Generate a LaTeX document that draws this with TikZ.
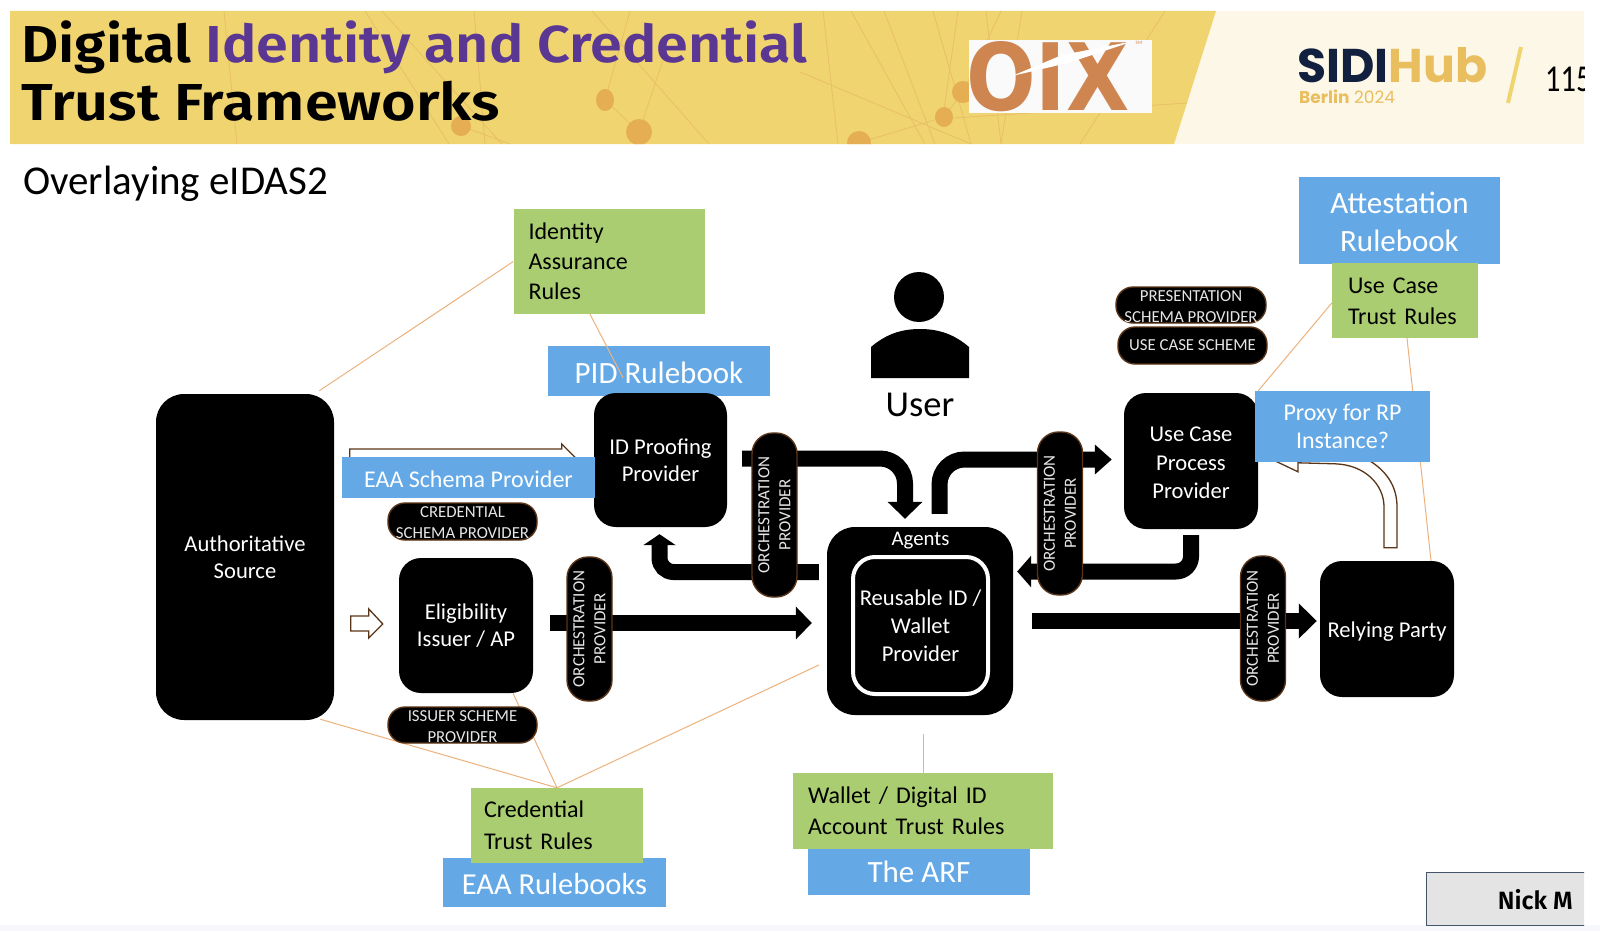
\documentclass[tikz,border=0pt]{standalone}
\usepackage{fontspec}
\setmainfont{Carlito}
\newfontfamily\titlefont{Fira Sans}[BoldFont={Fira Sans SemiBold}]
\newfontfamily\logofont{Poppins}
\newfontfamily\oixfont{DejaVu Sans}
\usetikzlibrary{arrows.meta,calc}
\newcommand\lowertext[2]{\raisebox{-#1pt}[\height][\depth]{#2}}
\definecolor{hdryellow}{HTML}{F0D470}
\definecolor{hdrcream}{HTML}{FDF7E7}
\definecolor{hdrline}{HTML}{E8C068}
\definecolor{hdrdot}{HTML}{E5AE52}
\definecolor{titlepurple}{HTML}{5B3794}
\definecolor{oixorange}{HTML}{CE8550}
\definecolor{sidinavy}{HTML}{12203F}
\definecolor{sidigold}{HTML}{E9BE5E}
\definecolor{boxgreen}{HTML}{A9CD70}
\definecolor{boxblue}{HTML}{64A9E6}
\definecolor{leader}{HTML}{EDB27C}
\definecolor{brownline}{HTML}{5A3518}
\definecolor{pilltext}{HTML}{E6E6E6}
\definecolor{nickfill}{HTML}{E4E4E4}
\definecolor{nickline}{HTML}{44546A}
\definecolor{stripfill}{HTML}{F7F8FC}
\pgfdeclarelayer{back}
\pgfsetlayers{back,main}
\tikzset{
  blackbox/.style={fill=black,text=white,rounded corners=22,inner sep=0pt,align=center,font=\fontsize{22.6}{27}\selectfont},
  vpill/.style={fill=black,draw=brownline,line width=1.4pt,rounded corners=21,rotate=90,inner sep=0pt,
     minimum height=45,text=pilltext,align=center,font=\fontsize{17}{21}\selectfont},
  hpill/.style={fill=black,draw=brownline,line width=1.4pt,rounded corners=17,inner sep=0pt,
     text=pilltext,align=center,font=\fontsize{16.8}{21}\selectfont},
  greenbox/.style={fill=boxgreen,text=black,align=left,inner sep=0pt,font=\fontsize{24}{31}\selectfont},
  bluebox/.style={fill=boxblue,text=white,align=center,inner sep=0pt},
  leaderline/.style={draw=leader,line width=1pt},
  thickarrow/.style n args={2}{draw=black,line width=16pt,-{Triangle[length=#1,width=#2]}},
  outlined/.style={draw=brownline,fill=white,line width=1.3pt,line join=miter},
  plain/.style={inner sep=0pt},
  hdrstroke/.style={draw=hdrline,line width=0.8pt},
}
\begin{document}
\begin{tikzpicture}[x=1pt,y=-1pt]
\useasboundingbox (0,0) rectangle (1600,931);
\begin{pgfonlayer}{back}
\fill[white] (0,0) rectangle (1600,931);
\end{pgfonlayer}
% ----- header
\fill[hdrcream] (10,11) rectangle (1584,144);
\fill[hdryellow] (10,11) -- (1216,11) -- (1174,144) -- (10,144) -- cycle;
\begin{scope}
\clip (10,11) -- (1216,11) -- (1174,144) -- (10,144) -- cycle;
\draw[hdrstroke] (224,11)--(237,144) (365,11)--(449,144) (382,11)--(502,144) (474,11)--(485,144)
  (592,11)--(709,144) (630,11)--(605,100)--(639,132)--(663,60) (823,11)--(838,144) (851,11)--(925,144)
  (884,11)--(935,144) (933,11)--(971,144) (958,11)--(943,117) (986,11)--(1001,144) (1022,11)--(1001,144)
  (1001,11)--(963,92)--(944,117)--(859,143) (953,118)--(1188,103) (800,72)--(971,144) (1165,11)--(1080,144)
  (461,126)--(510,144);
\fill[hdrdot] (605,100) circle[x radius=9,y radius=11] (639,132) circle[radius=13]
  (461,126) circle[radius=10] (963,92) circle[radius=11] (944,117) circle[x radius=9,y radius=10]
  (859,143) circle[radius=12];
\end{scope}
\node[plain,anchor=base west] (t1) at (21,63) {\scalebox{1.105}[1]{\titlefont\fontsize{52}{52}\selectfont\bfseries Digital \textcolor{titlepurple}{Identity and Credential}}};
\node[plain,anchor=base west] (t2) at (21,121) {\scalebox{1.14}[1]{\titlefont\fontsize{52}{52}\selectfont\bfseries Trust Frameworks}};
% OIX logo
\fill[white!98!black] (969,40) rectangle (1151.5,113);
\node[plain,anchor=base west] (oix) at (966,111) {\textcolor{oixorange}{\scalebox{0.82}[0.93]{\oixfont\fontsize{100}{100}\selectfont\bfseries OIX}}};
\fill[white] (1012,76) -- (1062,55) -- (1134,41) -- (1068,63) -- cycle;
\node[plain] (oixsm) at (1139,43) {\fontsize{5}{5}\selectfont\textcolor{oixorange}{SM}};
% SIDI Hub logo
\node[plain,anchor=base west] (sidi) at (1297,83) {\logofont\fontsize{47.3}{47}\selectfont\bfseries\textcolor{sidinavy}{SIDI}\textcolor{sidigold}{Hub}};
\node[plain,anchor=base west] (berlin) at (1299,103.5) {\logofont\fontsize{17}{17}\selectfont\textcolor{sidigold}{{\bfseries Berlin} 2024}};
\draw[hdryellow,line width=4pt] (1521,47) -- (1508,103);
\begin{scope}
\clip (1500,11) rectangle (1584,144);
\node[plain,anchor=base west] (pageno) at (1545,92) {\scalebox{0.8}[1]{\fontsize{38}{38}\selectfont 115}};
\end{scope}
\node[plain,anchor=base west] (sub) at (23,194) {\fontsize{41}{41}\selectfont Overlaying eIDAS2};
% bottom strip
\fill[stripfill] (0,925) rectangle (1600,931);
% ----- black boxes
\node[blackbox,rounded corners=28,minimum width=178,minimum height=326] (auth) at (245,557) {Authoritative\\Source};
\node[blackbox,minimum width=134,minimum height=135] (elig) at (466,625.5) {Eligibility\\Issuer / AP};
\node[blackbox,rounded corners=28,minimum width=186,minimum height=188] (agents) at (920,621) {};
\node[blackbox,draw=white,line width=4pt,minimum width=135,minimum height=137,font=\fontsize{22.6}{28}\selectfont] (wallet) at (920.5,625.5) {Reusable ID /\\Wallet\\Provider};
\node[plain,text=white,font=\fontsize{20.8}{21}\selectfont] (agentslbl) at (920.5,541) {Agents};
\node[blackbox,minimum width=134,minimum height=136,font=\fontsize{22.6}{28.5}\selectfont] (uc) at (1191,461) {\lowertext{2}{Use Case}\\\lowertext{2}{Process}\\\lowertext{2}{Provider}};
\node[blackbox,minimum width=134,minimum height=136] (rp) at (1387,629) {\lowertext{2.5}{Relying Party}};
% ----- user
\fill[black] (919,297) circle[radius=25];
\fill[black] (871,378) -- (871,347) .. controls (885,335) and (900,329) .. (920,329)
   .. controls (940,329) and (955,335) .. (969,347) -- (969,378) -- cycle;
\node[plain,font=\fontsize{36.5}{36}\selectfont] (user) at (920,405) {User};
% ----- rule boxes
\node[greenbox,minimum width=191,minimum height=105,text width=161,font=\fontsize{24}{30}\selectfont] (ia) at (609,261.5) {Identity\\Assurance\\Rules};
\node[bluebox,minimum width=222,minimum height=50,font=\fontsize{31}{31}\selectfont] (pid) at (659,371) {\lowertext{2}{PID Rulebook}};
\node[blackbox,minimum width=133,minimum height=134] (idp) at (660.5,460) {ID Proofing\\Provider};
\node[bluebox,minimum width=253,minimum height=41,font=\fontsize{24}{24}\selectfont] (eaas) at (468.5,477.5) {\lowertext{2}{EAA Schema Provider}};
\node[bluebox,minimum width=201,minimum height=87,font=\fontsize{31}{38}\selectfont] (att) at (1399.5,220.5) {\lowertext{1}{Attestation}\\\lowertext{1}{Rulebook}};
\node[greenbox,minimum width=146,minimum height=75,text width=114] (ucr) at (1405,300.5) {\lowertext{1}{Use Case}\\\lowertext{1}{Trust Rules}};
\node[bluebox,minimum width=175,minimum height=71,font=\fontsize{24}{28}\selectfont] (proxy) at (1342.5,426.5) {Proxy for RP\\Instance?};
\node[bluebox,minimum width=223,minimum height=49,font=\fontsize{30.5}{31}\selectfont] (eaar) at (554.5,882.5) {\lowertext{2}{EAA Rulebooks}};
\node[greenbox,minimum width=172,minimum height=75,text width=146,font=\fontsize{24}{32}\selectfont] (cred) at (557,825.5) {Credential\\Trust Rules};
\node[bluebox,minimum width=222,minimum height=46,font=\fontsize{31}{31}\selectfont] (arf) at (919,872) {The ARF};
\node[greenbox,minimum width=260,minimum height=76,text width=230] (wrules) at (923,811) {Wallet / Digital ID\\Account Trust Rules};
% ----- nick label
\begin{scope}
\clip (1400,860) rectangle (1584,931);
\node[draw=nickline,fill=nickfill,line width=1pt,inner sep=0pt,minimum width=190,minimum height=53] (nick) at (1521,898.5) {};
\end{scope}
\node[plain,anchor=east,font=\titlefont\fontsize{25}{25}\selectfont\bfseries] (nicklbl) at (1573,900) {Nick M};
% ----- pills
\node[vpill,minimum width=164] (p1) at (774.5,515) {ORCHESTRATION\\PROVIDER};
\node[vpill,minimum width=144] (p2) at (589.5,629) {ORCHESTRATION\\PROVIDER};
\node[vpill,minimum width=163] (p3) at (1060,513.5) {ORCHESTRATION\\PROVIDER};
\node[vpill,minimum width=145] (p4) at (1263,628.5) {ORCHESTRATION\\PROVIDER};
\node[hpill,minimum width=149,minimum height=37] (credp) at (462.5,521.5) {\lowertext{1}{CREDENTIAL}\\\lowertext{1}{SCHEMA PROVIDER}};
\node[hpill,minimum width=149,minimum height=36] (issp) at (462.5,725) {\lowertext{2}{ISSUER SCHEME}\\\lowertext{2}{PROVIDER}};
\node[hpill,minimum width=150,minimum height=36] (presp) at (1191,305) {\lowertext{2}{PRESENTATION}\\\lowertext{2}{SCHEMA PROVIDER}};
\node[hpill,minimum width=149,minimum height=37] (ucsp) at (1192.5,345.5) {USE CASE SCHEME};
% PID leader lies on top of its blue box
\draw[leaderline] ($(ia.south)+(-19,0)$) -- ($(pid.north)+(-36,32)$);
\begin{pgfonlayer}{back}
% ----- leader lines
\draw[leaderline] (ia.west) -- ($(auth.north east)+(-15,-3)$);
\draw[leaderline] ($(ucr.west)+(0,2.5)$) -- ($(uc.north east)+(0,-2)$);
\draw[leaderline] ($(ucr.south)+(2,0)$) -- ($(rp.north)+(44,0)$);
\draw[leaderline] (cred.north) -- ($(auth.south east)+(-14,-1)$);
\draw[leaderline] (cred.north) -- ($(elig.south)+(47,0)$);
\draw[leaderline] (cred.north) -- ($(agents.west)+(-8,44)$);
\draw[leaderline] (wrules.north) -- ($(agents.south)+(3,19)$);
% ----- thick black arrows
\draw[thickarrow={16pt}{32pt}] ($(elig.east)+(17,-2.5)$) -- ($(agents.west)+(-15,2)$);
\draw[thickarrow={11pt}{32pt},rounded corners=14] ($(agents.west)+(-8,-49)$) -| ($(idp.south)+(-1,7)$);
\draw[thickarrow={17pt}{34pt},rounded corners=25] ($(idp.east)+(15,-1.5)$) -| ($(agents.north)+(-15,-8)$);
\draw[thickarrow={17pt}{29pt},rounded corners=25] ($(agents.north)+(19.5,-13)$) |- ($(uc.west)+(-12,-1.5)$);
\draw[thickarrow={14pt}{31pt},rounded corners=15] ($(uc.south)+(0,6)$) |- ($(agents.east)+(4,-49.5)$);
\draw[thickarrow={18pt}{34pt}] ($(agents.east)+(19,0)$) -- ($(rp.west)+(-3,-8)$);
% ----- outlined block arrows
\begin{scope}[shift={(idp.west)}]
\draw[outlined] (-244,5) -- (-244,-11) -- (-32,-11) -- (-32,-16) -- (-19,-3) -- (-32,10) -- (-32,5) -- cycle;
\end{scope}
\begin{scope}[shift={(elig.west)}]
\draw[outlined] (-48,-9.5) -- (-30,-9.5) -- (-30,-16.5) -- (-16,-1.5) -- (-30,12.5) -- (-30,5.5) -- (-48,5.5) -- cycle;
\end{scope}
\begin{scope}[shift={(rp.north)}]
\draw[outlined] (-3,-13) -- (10,-13) -- (10,-54) .. controls (10,-76) and (-2,-91) .. (-19,-101)
   -- (-89,-111) -- (-110,-99) -- (-89,-89) -- (-89,-98) -- (-52,-97)
   .. controls (-22,-96) and (-3,-76) .. (-3,-54) -- cycle;
\end{scope}
\end{pgfonlayer}
\end{tikzpicture}
\end{document}
